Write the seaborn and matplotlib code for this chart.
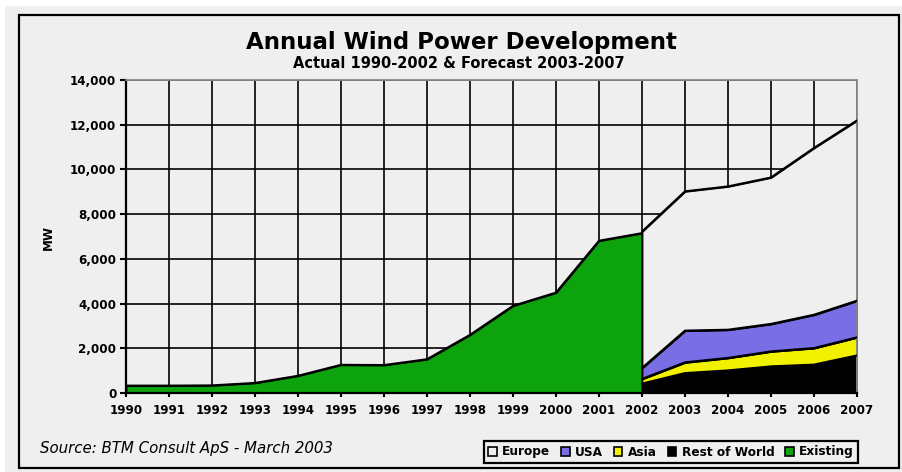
import numpy as np
import pandas as pd
import matplotlib
matplotlib.use("Agg")
import matplotlib.pyplot as plt
import seaborn as sns
from matplotlib.patches import Rectangle, Patch

# ---- data ----
years_actual = [1990, 1991, 1992, 1993, 1994, 1995, 1996, 1997, 1998, 1999, 2000, 2001, 2002]
existing = [330, 330, 340, 450, 770, 1260, 1250, 1510, 2600, 3900, 4490, 6810, 7150]

years_forecast = [2002, 2003, 2004, 2005, 2006, 2007]
rest_of_world = [420, 890, 1010, 1190, 1270, 1680]
asia = [210, 480, 560, 670, 740, 810]
usa = [490, 1420, 1260, 1230, 1490, 1640]
europe = [6100, 6230, 6410, 6550, 7460, 8060]

year_ticks = list(range(1990, 2008))
y_ticks = [0, 2000, 4000, 6000, 8000, 10000, 12000, 14000]

title = "Annual Wind Power Development"
subtitle = "Actual 1990-2002 & Forecast 2003-2007"
source = "Source: BTM Consult ApS - March 2003"
legend_labels = ["Europe", "USA", "Asia", "Rest of World", "Existing"]

# ---- style ----
BG = "#efefef"
C_EUROPE = BG
C_USA = "#7a6ee6"
C_ASIA = "#f2f200"
C_ROW = "#000000"
C_EXIST = "#0ca30c"

sns.set_theme(style="white")
plt.rcParams["font.family"] = ["DejaVu Sans"]
plt.rcParams.update({"text.color": "black", "xtick.color": "black", "ytick.color": "black",
                     "axes.labelcolor": "black"})

fig = plt.figure(figsize=(9.03, 4.72), dpi=100, facecolor=BG)
ax = fig.add_axes([126 / 903, 1 - 393 / 472, (857 - 126) / 903, (393 - 80) / 472])
ax.set_facecolor(BG)

# data frames
df_exist = pd.DataFrame({"year": years_actual, "mw": existing})
f = pd.DataFrame({"year": years_forecast, "row": rest_of_world, "asia": asia,
                  "usa": usa, "europe": europe})
f["l1"] = f["row"]
f["l2"] = f["l1"] + f["asia"]
f["l3"] = f["l2"] + f["usa"]
f["l4"] = f["l3"] + f["europe"]

EDGE = dict(edgecolor="black", linewidth=1.3)
ax.fill_between(df_exist["year"], 0, df_exist["mw"], facecolor=C_EXIST, **EDGE, zorder=1)
ax.fill_between(f["year"], 0, f["l1"], facecolor=C_ROW, **EDGE, zorder=1)
ax.fill_between(f["year"], f["l1"], f["l2"], facecolor=C_ASIA, **EDGE, zorder=1)
ax.fill_between(f["year"], f["l2"], f["l3"], facecolor=C_USA, **EDGE, zorder=1)
ax.fill_between(f["year"], f["l3"], f["l4"], facecolor=C_EUROPE, **EDGE, zorder=1)

# outlines via seaborn
sns.lineplot(data=df_exist, x="year", y="mw", color="black", linewidth=1.5, ax=ax, zorder=3)
for col in ["l1", "l2", "l3", "l4"]:
    sns.lineplot(data=f, x="year", y=col, color="black", linewidth=1.5, ax=ax, zorder=3)

# axes
ax.set_xlim(1990, 2007)
ax.set_ylim(0, 14000)
ax.set_xticks(year_ticks)
ax.set_xticklabels([str(y) for y in year_ticks], fontsize=8.6, fontweight="bold")
ax.set_yticks(y_ticks)
ax.set_yticklabels([f"{v:,}" for v in y_ticks], fontsize=8.6, fontweight="bold")
ax.set_xlabel("")
ax.set_ylabel("")
ax.grid(True, color="black", linewidth=1.2)
ax.set_axisbelow(True)

ax.tick_params(axis="x", direction="inout", length=6, width=1.5, color="black", pad=5)
ax.tick_params(axis="y", direction="out", length=4, width=1.5, color="black", pad=3)
ax.tick_params(bottom=True, left=True)

for s in ["left", "bottom"]:
    ax.spines[s].set_color("black")
    ax.spines[s].set_linewidth(1.6)
for s in ["top", "right"]:
    ax.spines[s].set_color("#8a8a8a")
    ax.spines[s].set_linewidth(1.3)
ax.spines["bottom"].set_zorder(4)

# texts
fig.text(461.5 / 903, 1 - 42 / 472, title, ha="center", va="center",
         fontsize=16.5, fontweight="bold", color="black")
fig.text(459 / 903, 1 - 63 / 472, subtitle, ha="center", va="center",
         fontsize=10.5, fontweight="bold", color="black")
fig.text(48 / 903, 1 - 237 / 472, "MW", rotation=90, ha="center", va="center",
         fontsize=8.6, fontweight="bold")
fig.text(40 / 903, 1 - 449 / 472, source, ha="left", va="center",
         fontsize=10.8, fontstyle="italic", color="black")

# legend
colors = [C_EUROPE, C_USA, C_ASIA, C_ROW, C_EXIST]
handles = [Patch(facecolor=c, edgecolor="black", linewidth=1.2) for c in colors]
leg = fig.legend(handles, legend_labels, loc="center", bbox_to_anchor=(671 / 903, 1 - 452 / 472),
                 ncol=5, frameon=True, fancybox=False, edgecolor="black", facecolor=BG,
                 framealpha=1, handlelength=0.7, handleheight=0.7, handletextpad=0.45,
                 columnspacing=0.9, borderpad=0.35,
                 prop={"weight": "bold", "size": 8.7})
leg.get_frame().set_linewidth(1.6)

# figure border and white margins
fig.patches.append(Rectangle((0, 1 - 6 / 472), 1, 6 / 472, transform=fig.transFigure,
                             facecolor="white", edgecolor="none", zorder=0))
fig.patches.append(Rectangle((0, 0), 5 / 903, 1, transform=fig.transFigure,
                             facecolor="white", edgecolor="none", zorder=0))
fig.patches.append(Rectangle((19 / 903, 1 - 468 / 472), (899 - 19) / 903, (468 - 15) / 472,
                             transform=fig.transFigure, fill=False, edgecolor="black",
                             linewidth=1.6, zorder=5))

fig.savefig("out.png", dpi=100, facecolor=BG)
